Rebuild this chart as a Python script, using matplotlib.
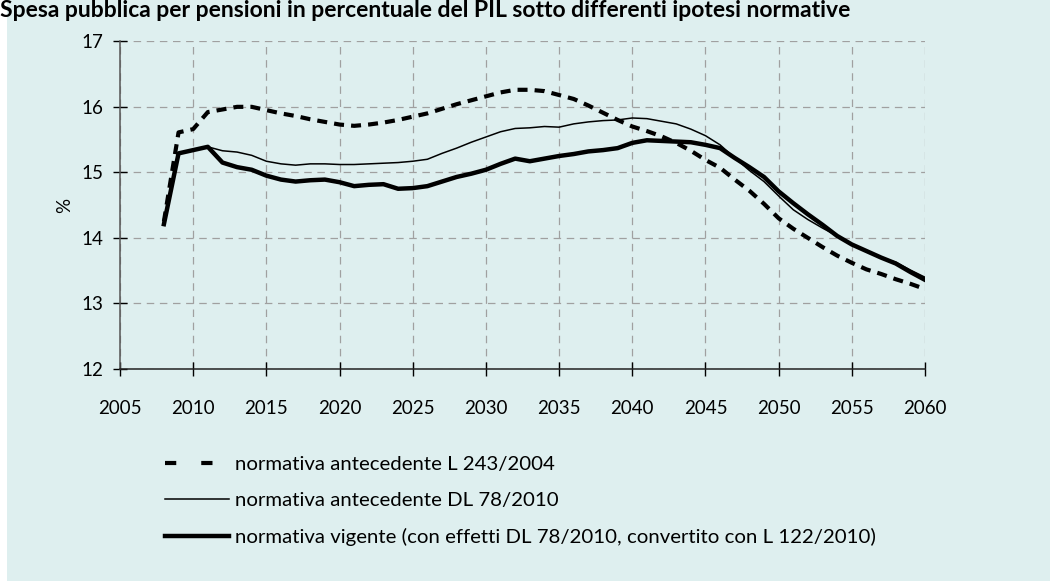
import matplotlib
matplotlib.use("Agg")
import matplotlib.pyplot as plt
import matplotlib.patches as patches
from matplotlib.lines import Line2D

# --- dati ---
anni = list(range(2008, 2061))

l243_2004 = [14.25, 15.61, 15.66, 15.92, 15.96, 16.00, 16.00, 15.95, 15.90, 15.86,
             15.81, 15.77, 15.73, 15.71, 15.73, 15.76, 15.80, 15.85, 15.90, 15.97,
             16.04, 16.10, 16.16, 16.22, 16.26, 16.26, 16.24, 16.18, 16.12, 16.02,
             15.91, 15.80, 15.70, 15.63, 15.55, 15.45, 15.33, 15.19, 15.07, 14.89,
             14.72, 14.52, 14.30, 14.14, 14.00, 13.86, 13.73, 13.62, 13.52, 13.45,
             13.37, 13.30, 13.22]

dl78_2010 = [14.21, 15.29, 15.33, 15.39, 15.33, 15.31, 15.26, 15.17, 15.13, 15.11,
             15.13, 15.13, 15.12, 15.12, 15.13, 15.14, 15.15, 15.17, 15.20, 15.29,
             15.37, 15.46, 15.54, 15.62, 15.67, 15.68, 15.70, 15.69, 15.74, 15.77,
             15.79, 15.80, 15.83, 15.82, 15.78, 15.74, 15.66, 15.56, 15.42, 15.22,
             15.03, 14.86, 14.64, 14.43, 14.28, 14.15, 14.03, 13.90, 13.80, 13.70,
             13.63, 13.51, 13.40]

vigente = [14.21, 15.29, 15.34, 15.39, 15.15, 15.08, 15.04, 14.95, 14.89, 14.86,
           14.88, 14.89, 14.85, 14.79, 14.81, 14.82, 14.75, 14.76, 14.79, 14.86,
           14.93, 14.98, 15.04, 15.13, 15.21, 15.17, 15.21, 15.25, 15.28, 15.32,
           15.34, 15.37, 15.45, 15.49, 15.48, 15.47, 15.46, 15.42, 15.37, 15.22,
           15.08, 14.93, 14.71, 14.53, 14.36, 14.20, 14.03, 13.90, 13.80, 13.70,
           13.61, 13.48, 13.36]

etichette = ['normativa antecedente L 243/2004',
             'normativa antecedente DL 78/2010',
             'normativa vigente (con effetti DL 78/2010, convertito con L 122/2010)']

titolo = 'Spesa pubblica per pensioni in percentuale del PIL sotto differenti ipotesi normative'

# --- stile ---
sfondo = '#DEEFEF'
plt.rcParams['font.family'] = ['Lato', 'DejaVu Sans']

fig = plt.figure(figsize=(10.5, 5.81), dpi=100)
fig.patch.set_facecolor(sfondo)

# striscia bianca a sinistra
fig.add_artist(patches.Rectangle((0, 0), 7 / 1050, 1, transform=fig.transFigure,
                                 facecolor='white', edgecolor='none', zorder=0))

ax = fig.add_axes([120 / 1050, 1 - 369 / 581, 805 / 1050, (369 - 41.3) / 581])
ax.set_facecolor(sfondo)

ax.plot(anni, l243_2004, color='black', lw=3.0, dashes=(2.4, 1.7), solid_capstyle='butt')
ax.plot(anni, dl78_2010, color='black', lw=1.1)
ax.plot(anni, vigente, color='black', lw=3.2)

ax.set_xlim(2005, 2060)
ax.set_ylim(12, 17)
ax.set_xticks(range(2005, 2061, 5))
ax.set_yticks(range(12, 18))

ax.grid(True, color='#A0A0A0', linestyle=(0, (6, 4.5)), linewidth=0.9)
ax.set_axisbelow(True)
for s in ['top', 'right']:
    ax.spines[s].set_visible(False)
ax.spines['left'].set_color('#555555')
ax.spines['bottom'].set_color('#222222')
ax.spines['left'].set_linewidth(1.1)
ax.spines['bottom'].set_linewidth(1.1)

ax.tick_params(axis='both', direction='inout', length=10.5, width=1.0,
               labelsize=13.5, colors='black')
ax.tick_params(axis='y', pad=7)
ax.tick_params(axis='x', pad=17)

ax.set_ylabel('%', fontsize=13.5, labelpad=6)

# legenda sotto il grafico
maniglie = [Line2D([0], [0], color='black', lw=3.0, dashes=(2.7, 6.0)),
            Line2D([0], [0], color='black', lw=1.1),
            Line2D([0], [0], color='black', lw=3.2)]
fig.legend(maniglie, etichette, loc='upper left',
           bbox_to_anchor=(165 / 1050, 1 - 456 / 581),
           frameon=False, fontsize=14.7, handlelength=3.15,
           handletextpad=0.3, labelspacing=0.92, borderpad=0, borderaxespad=0)

# titolo in alto a sinistra
fig.text(0.0, 1.0, titolo, fontsize=16.5, fontweight='bold',
         ha='left', va='top', color='black')

plt.savefig('out.png', dpi=100, facecolor=sfondo)
